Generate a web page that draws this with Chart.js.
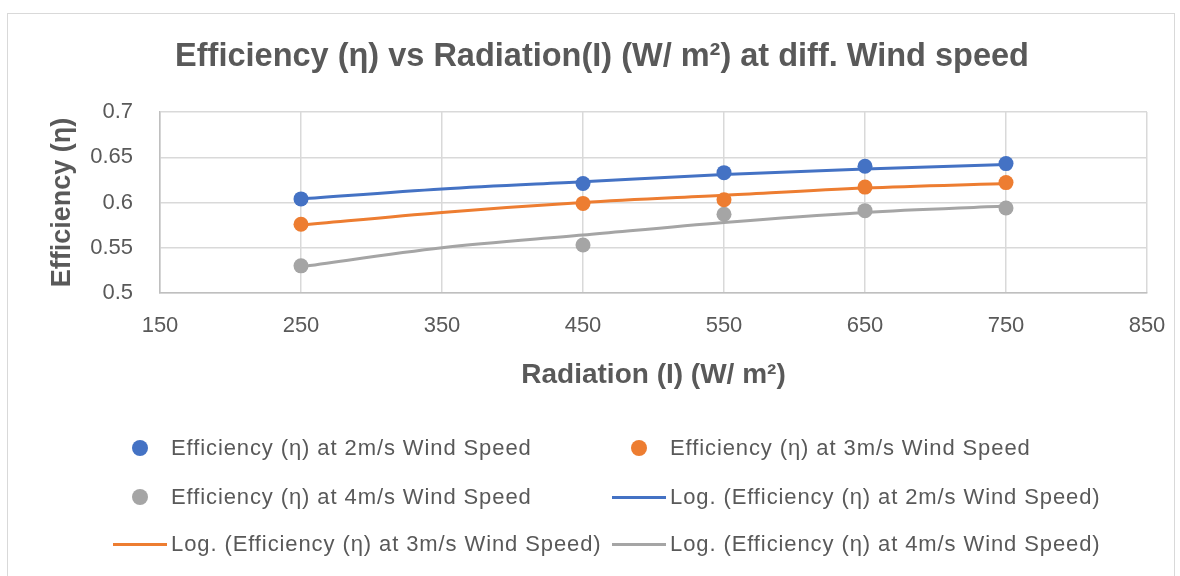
<!DOCTYPE html>
<html><head><meta charset="utf-8">
<script src="https://cdn.jsdelivr.net/npm/chart.js@4.4.1/dist/chart.umd.min.js"></script>
<style>
html,body{margin:0;padding:0;background:#fff;}
#wrap{position:relative;width:1180px;height:576px;overflow:hidden;font-family:"Liberation Sans",Arial,sans-serif;}
#frame{position:absolute;left:7px;top:13px;width:1168px;height:620px;border:1px solid #d9d9d9;box-sizing:border-box;pointer-events:none;}
#c{position:absolute;left:0;top:0;}
.lg{position:absolute;display:flex;align-items:center;height:30px;color:#595959;font-size:22px;letter-spacing:0.9px;white-space:nowrap;}
.mk{width:54px;height:30px;position:relative;margin-right:4px;flex:none}
.dot{position:absolute;left:19px;top:7px;width:16px;height:16px;border-radius:50%;}
.ln{position:absolute;left:0;top:13.5px;width:54px;height:3px;}
</style></head>
<body>
<div id="wrap">
<canvas id="c" width="1180" height="576"></canvas>
<div id="frame"></div>
<div id="legend"></div>
</div>
<script>
const chartTitle = 'Efficiency (η) vs Radiation(I) (W/ m²) at diff. Wind speed';
const xTitle = 'Radiation (I) (W/ m²)';
const yTitle = 'Efficiency (η)';
const radiation = [250, 450, 550, 650, 750];
const eff2 = [0.604, 0.621, 0.633, 0.640, 0.643];
const eff3 = [0.576, 0.599, 0.603, 0.617, 0.622];
const eff4 = [0.530, 0.553, 0.587, 0.591, 0.594];
const trendX = [250, 350, 450, 550, 650, 750];
const trend2 = [0.604, 0.615, 0.623, 0.631, 0.637, 0.642];
const trend3 = [0.575, 0.589, 0.600, 0.608, 0.616, 0.621];
const trend4 = [0.529, 0.550, 0.564, 0.578, 0.589, 0.596];
const seriesNames = ['Efficiency (η) at 2m/s Wind Speed', 'Efficiency (η) at 3m/s Wind Speed', 'Efficiency (η) at 4m/s Wind Speed'];
const trendNames = ['Log. (Efficiency (η) at 2m/s Wind Speed)', 'Log. (Efficiency (η) at 3m/s Wind Speed)', 'Log. (Efficiency (η) at 4m/s Wind Speed)'];
const colors = ['#4472C4', '#ED7D31', '#A5A5A5'];

const FONT = '"Liberation Sans", Arial, sans-serif';
const pts = (xs, ys) => xs.map((x, i) => ({x: x, y: ys[i]}));
const seriesVals = [eff2, eff3, eff4];
const trendVals = [trend2, trend3, trend4];

const datasets = [];
seriesVals.forEach((v, i) => datasets.push({
  label: seriesNames[i], data: pts(radiation, v), showLine: false,
  pointRadius: 7.5, pointHoverRadius: 7.5, pointBorderWidth: 0,
  backgroundColor: colors[i], borderColor: colors[i], order: 0
}));
trendVals.forEach((v, i) => datasets.push({
  label: trendNames[i], data: pts(trendX, v), showLine: true,
  pointRadius: 0, pointHoverRadius: 0, borderWidth: 3,
  borderColor: colors[i], backgroundColor: colors[i],
  tension: 0.4, cubicInterpolationMode: 'monotone', order: 1
}));

const chart = new Chart(document.getElementById('c'), {
  type: 'scatter',
  data: {datasets: datasets},
  options: {
    responsive: false, animation: false,
    layout: {padding: {left: 40, right: 16, top: 0, bottom: 173}},
    plugins: {
      legend: {display: false},
      tooltip: {enabled: false},
      title: {display: true, text: chartTitle, color: '#595959',
        font: {family: FONT, size: 32.5, weight: 'bold', lineHeight: 1.2},
        padding: {top: 38, bottom: 35}}
    },
    scales: {
      x: {type: 'linear', min: 150, max: 850,
        ticks: {stepSize: 100, color: '#595959', font: {family: FONT, size: 22}, padding: 20},
        grid: {color: '#d9d9d9', lineWidth: 1.5, drawTicks: false},
        border: {color: '#bfbfbf', width: 1.5},
        title: {display: true, text: xTitle, color: '#595959',
          font: {family: FONT, size: 28, weight: 'bold', lineHeight: 1.2}, padding: {top: 0, bottom: 11}},
        afterFit: s => { s.height = 110; s.paddingRight = 33; s.paddingLeft = 0; }
      },
      y: {type: 'linear', min: 0.5, max: 0.7,
        ticks: {stepSize: 0.05, color: '#595959', font: {family: FONT, size: 22}, padding: 27,
          callback: v => String(Number(v.toFixed(2)))},
        grid: {color: '#d9d9d9', lineWidth: 1.5, drawTicks: false},
        border: {color: '#bfbfbf', width: 1.5},
        title: {display: true, text: yTitle, color: '#595959',
          font: {family: FONT, size: 27, weight: 'bold', lineHeight: 1.2}, padding: {top: 6.8, bottom: 0}},
        afterFit: s => { s.width = 120; }
      }
    }
  }
});

// HTML legend (Excel-style two-column layout)
const legendOrder = [
  {name: seriesNames[0], c: colors[0], type: 'dot'},
  {name: seriesNames[1], c: colors[1], type: 'dot'},
  {name: seriesNames[2], c: colors[2], type: 'dot'},
  {name: trendNames[0], c: colors[0], type: 'line'},
  {name: trendNames[1], c: colors[1], type: 'line'},
  {name: trendNames[2], c: colors[2], type: 'line'}
];
const colLeft = [113, 612];
const rowMid = [448, 497, 544];
const lg = document.getElementById('legend');
legendOrder.forEach((it, k) => {
  const d = document.createElement('div');
  d.className = 'lg';
  d.style.left = colLeft[k % 2] + 'px';
  d.style.top = (rowMid[Math.floor(k / 2)] - 15) + 'px';
  const mk = document.createElement('div');
  mk.className = 'mk';
  const m = document.createElement('div');
  m.className = it.type === 'dot' ? 'dot' : 'ln';
  m.style.background = it.c;
  mk.appendChild(m);
  d.appendChild(mk);
  const t = document.createElement('span');
  t.textContent = it.name;
  d.appendChild(t);
  lg.appendChild(d);
});
</script>
</body></html>
